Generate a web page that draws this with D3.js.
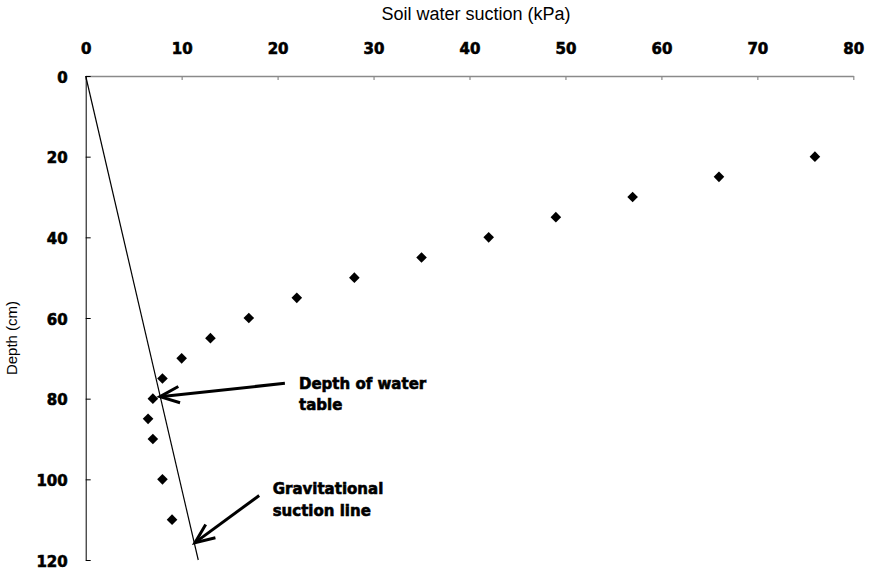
<!DOCTYPE html>
<html>
<head>
<meta charset="utf-8">
<script src="https://cdn.jsdelivr.net/npm/d3@7"></script>
<style>
  html, body { margin: 0; padding: 0; background: #fff; }
  svg { display: block; }
</style>
</head>
<body>
<svg id="chart" width="869" height="569"></svg>
<script>
// Measured soil water suction profile
const suction = [76, 66, 57, 49, 42, 35, 28, 22, 17, 13, 10, 8, 7, 6.5, 7, 8, 9];
const depth   = [20, 25, 30, 35, 40, 45, 50, 55, 60, 65, 70, 75, 80, 85, 90, 100, 110];

// Gravitational suction line (suction rises ~0.098 kPa per cm of depth)
const gravSuction = [0, 11.73];
const gravDepth   = [0, 120];

const xTicks = [0, 10, 20, 30, 40, 50, 60, 70, 80];
const yTicks = [0, 20, 40, 60, 80, 100, 120];

const xTitle = "Soil water suction (kPa)";
const yTitle = "Depth (cm)";

const svg = d3.select("#chart");
const x = d3.scaleLinear().domain([0, 80]).range([85.7, 853.3]);
const y = d3.scaleLinear().domain([0, 120]).range([76, 560]);

const tickFont = "'DejaVu Sans', sans-serif";

// heavy black label style
function heavy(sel) {
  sel.attr("font-family", tickFont).attr("font-weight", "bold")
    .attr("font-size", 15).attr("fill", "#000")
    .attr("stroke", "#000").attr("stroke-width", 0.6);
}

// Top (suction) axis, ticks pointing into the plot
const gx = svg.append("g")
  .attr("transform", `translate(0,${y(0)})`)
  .call(d3.axisTop(x).tickValues(xTicks).tickSizeInner(-4).tickSizeOuter(0).tickPadding(22));
gx.select(".domain").attr("stroke", "#8a8a8a").attr("stroke-width", 1.5);
gx.selectAll(".tick line").attr("stroke", "#8a8a8a").attr("stroke-width", 1.2);
gx.selectAll(".tick text").call(heavy);

// Left (depth) axis, ticks pointing into the plot
const gy = svg.append("g")
  .attr("transform", `translate(${x(0)},0)`)
  .call(d3.axisLeft(y).tickValues(yTicks).tickSizeInner(-5).tickSizeOuter(0).tickPadding(18));
gy.select(".domain").attr("stroke", "#000").attr("stroke-width", 1);
gy.selectAll(".tick line").attr("stroke", "#000").attr("stroke-width", 1);
gy.selectAll(".tick text").call(heavy).attr("dy", "0.4em");

// Axis titles
svg.append("text")
  .attr("x", 476).attr("y", 20)
  .attr("text-anchor", "middle")
  .attr("font-family", "'Liberation Sans', Arial, sans-serif")
  .attr("font-size", 18).attr("fill", "#000")
  .text(xTitle);

svg.append("text")
  .attr("transform", "translate(16.5,338) rotate(-90)")
  .attr("text-anchor", "middle")
  .attr("font-family", "'Liberation Sans', Arial, sans-serif")
  .attr("font-size", 15).attr("fill", "#000")
  .text(yTitle);

// Gravitational suction line
const gravPts = gravSuction.map((s, i) => [s, gravDepth[i]]);
svg.append("path")
  .attr("d", d3.line().x(d => x(d[0])).y(d => y(d[1]))(gravPts))
  .attr("fill", "none").attr("stroke", "#000").attr("stroke-width", 1.2);

// Measured points as diamonds
const pts = suction.map((s, i) => ({ s, d: depth[i] }));
const r = 5.3;
svg.append("g").selectAll("path")
  .data(pts).join("path")
  .attr("transform", d => `translate(${x(d.s)},${y(d.d)})`)
  .attr("d", `M0,${-r}L${r},0L0,${r}L${-r},0Z`)
  .attr("fill", "#000");

// Callouts: arrow from label toward the curve
const callouts = [
  { lines: ["Depth of water", "table"], tx: 299, ty: 388.5, from: [20.76, 76.2], to: [7.74, 79.5] },
  { lines: ["Gravitational", "suction line"], tx: 272.7, ty: 494, from: [18.08, 104], to: [11.39, 115.7] }
];

callouts.forEach(c => {
  const x1 = x(c.from[0]), y1 = y(c.from[1]);
  const x2 = x(c.to[0]), y2 = y(c.to[1]);
  const ang = Math.atan2(y1 - y2, x1 - x2);
  const L = 21, a = 23 * Math.PI / 180;
  svg.append("line")
    .attr("x1", x1).attr("y1", y1).attr("x2", x2).attr("y2", y2)
    .attr("stroke", "#000").attr("stroke-width", 3);
  const p = d3.path();
  p.moveTo(x2 + L * Math.cos(ang + a), y2 + L * Math.sin(ang + a));
  p.lineTo(x2, y2);
  p.lineTo(x2 + L * Math.cos(ang - a), y2 + L * Math.sin(ang - a));
  svg.append("path").attr("d", p.toString())
    .attr("fill", "none").attr("stroke", "#000").attr("stroke-width", 3)
    .attr("stroke-linejoin", "miter");
  const t = svg.append("text").call(heavy);
  c.lines.forEach((ln, i) => {
    t.append("tspan").attr("x", c.tx).attr("y", c.ty + i * 21.7).text(ln);
  });
});
</script>
</body>
</html>
